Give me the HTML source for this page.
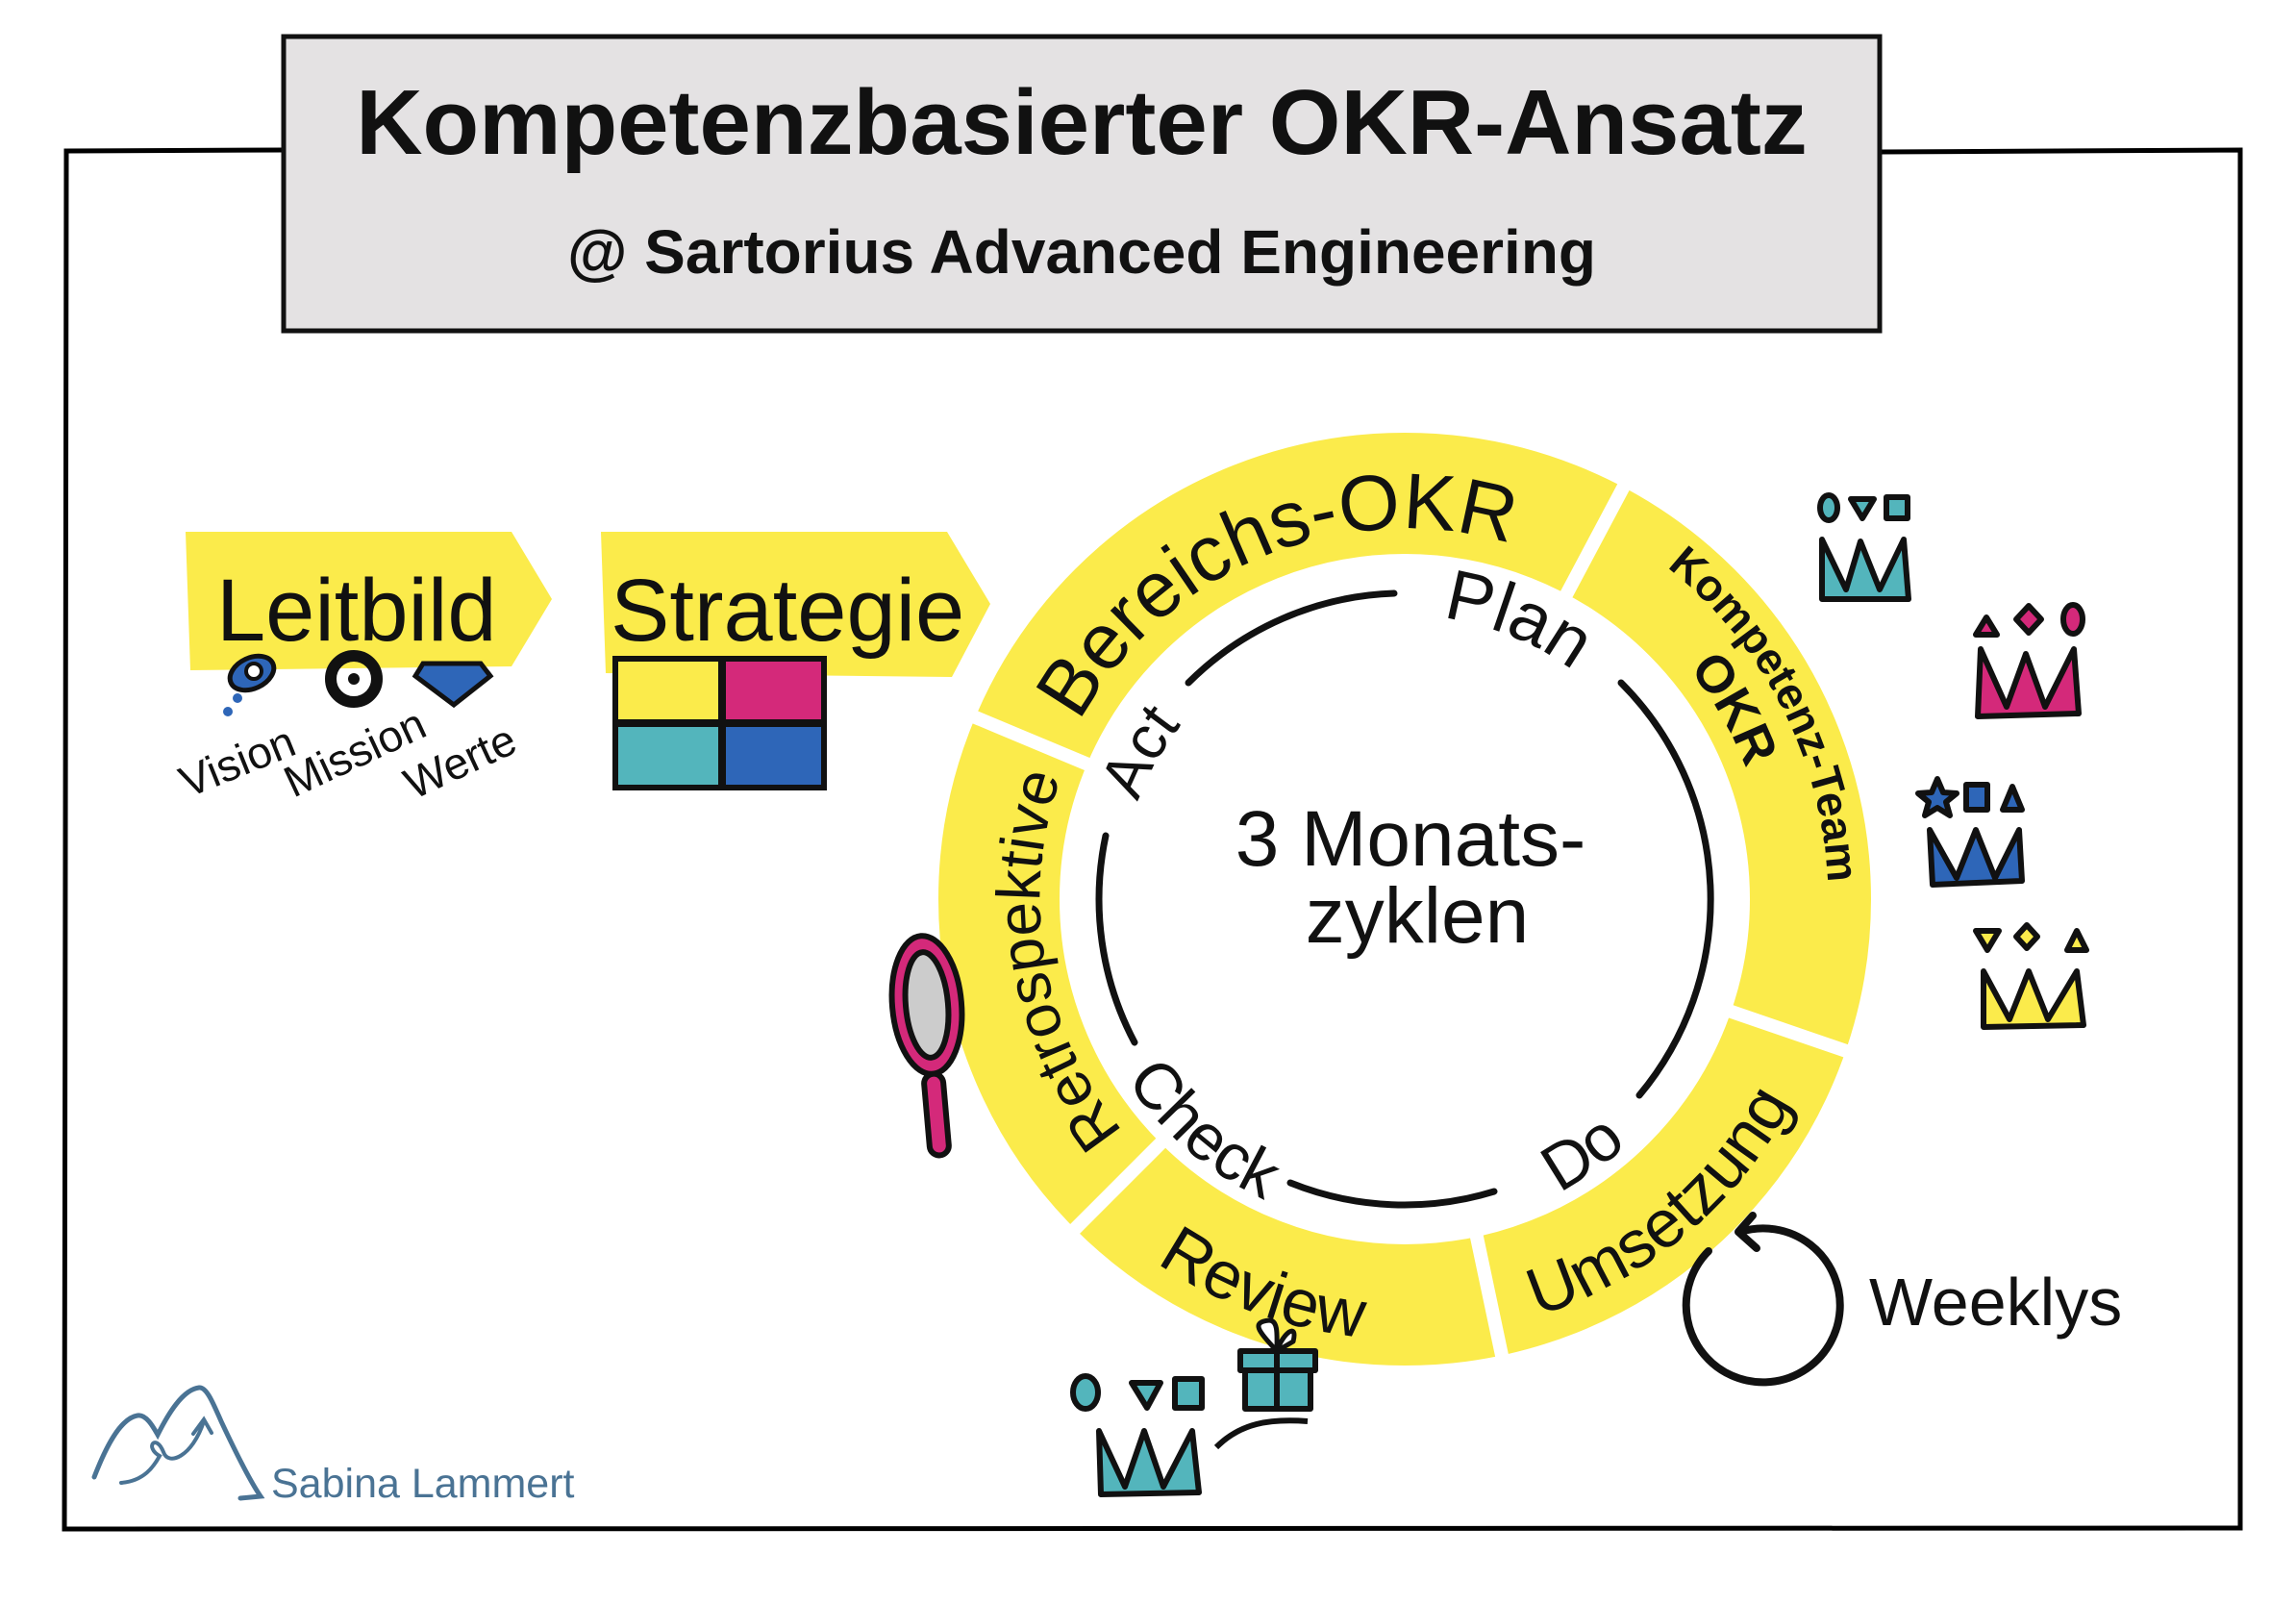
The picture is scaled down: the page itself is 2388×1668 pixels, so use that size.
<!DOCTYPE html>
<html><head><meta charset="utf-8"><style>
html,body{margin:0;padding:0;background:#fff}
svg{display:block}
text{font-family:"Liberation Sans",sans-serif;fill:#111}
.b{font-weight:bold}
</style></head><body>
<svg width="2388" height="1668" viewBox="0 0 2388 1668" xmlns="http://www.w3.org/2000/svg">
<path d="M295,156 L69,157 L67,1590 L2330,1589 L2330,156 L1955,158" fill="none" stroke="#000" stroke-width="5"/>
<rect x="295" y="38" width="1660" height="306" fill="#e4e2e3" stroke="#111" stroke-width="5"/>
<text class="b" x="1125" y="160" font-size="96" text-anchor="middle">Kompetenzbasierter OKR-Ansatz</text>
<text class="b" x="1125" y="284" font-size="64" text-anchor="middle">@ Sartorius Advanced Engineering</text>

<polygon points="193,553 532,553 574,623 532,693 198,697" fill="#fbeb4b"/>
<text x="225" y="666" font-size="92">Leitbild</text>
<polygon points="625,553 985,553 1030,628 990,704 630,700" fill="#fbeb4b"/>
<text x="635" y="666" font-size="92">Strategie</text>
<rect x="637" y="682" width="223" height="140" fill="#111"/>
<rect x="643" y="688" width="104" height="60" fill="#fbeb4b"/>
<rect x="755" y="688" width="99" height="60" fill="#d4297a"/>
<rect x="643" y="756" width="104" height="60" fill="#53b5bc"/>
<rect x="755" y="756" width="99" height="60" fill="#2e66b8"/>

<g transform="translate(262,700)">
<ellipse cx="0" cy="0" rx="24" ry="16" fill="#2e66b8" stroke="#111" stroke-width="5" transform="rotate(-25)"/>
<circle cx="2" cy="-2" r="8" fill="#fff" stroke="#111" stroke-width="4"/>
<circle cx="-15" cy="26" r="5" fill="#2e66b8"/>
<circle cx="-25" cy="40" r="5" fill="#2e66b8"/>
</g>
<circle cx="368" cy="706" r="24" fill="none" stroke="#111" stroke-width="12"/>
<circle cx="368" cy="706" r="6" fill="#111"/>
<polygon points="440,690 500,690 510,703 472,733 432,703" fill="#2e66b8" stroke="#111" stroke-width="5"/>
<text font-size="46" transform="translate(195,830) rotate(-22)">Vision</text>
<text font-size="46" transform="translate(305,830) rotate(-25)">Mission</text>
<text font-size="46" transform="translate(430,832) rotate(-25)">Werte</text>

<circle cx="1461" cy="935" r="422" fill="none" stroke="#fbeb4b" stroke-width="126"/>
<g stroke="#fff" stroke-width="14">
<line x1="1139" y1="798" x2="1005" y2="742"/>
<line x1="1625" y1="626" x2="1693" y2="498"/>
<line x1="1792" y1="1049" x2="1929" y2="1096"/>
<line x1="1534" y1="1277" x2="1564" y2="1419"/>
<line x1="1214" y1="1182" x2="1111" y2="1285"/>
</g>
<defs>
<path id="p1" d="M1112,772 A385,385 0 0 1 1593,573"/>
<path id="p2" d="M1668,547 A440,440 0 0 1 1897,996"/>
<path id="p3" d="M1730,666 A380,380 0 0 1 1828,837"/>
<path id="p4" d="M1540,1383 A455,455 0 0 0 1889,1091"/>
<path id="p5" d="M1149,1270 A458,458 0 0 0 1485,1392"/>
<path id="p6" d="M1227,1234 A380,380 0 0 1 1139,734"/>
<path id="p7" d="M1451,640 A295,295 0 0 1 1673,730"/>
<path id="p8" d="M1170,884 A295,295 0 0 1 1264,716"/>
<path id="p9" d="M1156,1097 A345,345 0 0 0 1343,1259"/>
<path id="p10" d="M1579,1259 A345,345 0 0 0 1725,1157"/>
</defs>
<text font-size="82"><textPath href="#p1" startOffset="50%" text-anchor="middle">Bereichs-OKR</textPath></text>
<text class="b" font-size="46"><textPath href="#p2" startOffset="50%" text-anchor="middle">Kompetenz-Team</textPath></text>
<text class="b" font-size="54"><textPath href="#p3" startOffset="50%" text-anchor="middle">OKR</textPath></text>
<text font-size="70"><textPath href="#p4" startOffset="50%" text-anchor="middle">Umsetzung</textPath></text>
<text font-size="70"><textPath href="#p5" startOffset="50%" text-anchor="middle">Review</textPath></text>
<text font-size="64"><textPath href="#p6" startOffset="50%" text-anchor="middle">Retrospektive</textPath></text>
<text font-size="74"><textPath href="#p7" startOffset="50%" text-anchor="middle">Plan</textPath></text>
<text font-size="64"><textPath href="#p8" startOffset="50%" text-anchor="middle">Act</textPath></text>
<text font-size="68"><textPath href="#p9" startOffset="50%" text-anchor="middle">Check</textPath></text>
<text font-size="68"><textPath href="#p10" startOffset="50%" text-anchor="middle">Do</textPath></text>
<g fill="none" stroke="#111" stroke-width="7" stroke-linecap="round">
<path d="M1686,710 A318,318 0 0 1 1705,1139"/>
<path d="M1554,1239 A318,318 0 0 1 1342,1230"/>
<path d="M1180,1084 A318,318 0 0 1 1150,869"/>
<path d="M1236,710 A318,318 0 0 1 1450,617"/>
</g>
<text x="1467" y="900" font-size="82" text-anchor="middle">3 Monats-</text>
<text x="1474" y="980" font-size="82" text-anchor="middle">zyklen</text>

<g stroke="#111" stroke-width="6" stroke-linejoin="round">
<g transform="translate(1890,513)">
<ellipse cx="12" cy="15" rx="9" ry="13" fill="#53b5bc"/>
<polygon points="35,6 59,6 47,26" fill="#53b5bc"/>
<rect x="72" y="4" width="22" height="22" fill="#53b5bc"/>
<path d="M5,110 L5,48 L30,100 L45,50 L65,100 L90,48 L95,110 Z" fill="#53b5bc"/>
</g>
<g transform="translate(2052,620)">
<polygon points="3,40 14,22 25,40" fill="#d4297a"/>
<polygon points="45,24 58,10 71,24 58,38" fill="#d4297a"/>
<ellipse cx="104" cy="24" rx="10" ry="15" fill="#d4297a"/>
<path d="M5,125 L8,55 L35,115 L55,60 L75,115 L105,55 L110,122 Z" fill="#d4297a"/>
</g>
<g transform="translate(1995,808)">
<polygon points="20,2 26,16 40,17 29,26 33,40 20,32 7,40 11,26 0,17 14,16" fill="#2e66b8"/>
<rect x="50" y="8" width="22" height="26" fill="#2e66b8"/>
<polygon points="88,34 98,10 108,34" fill="#2e66b8"/>
<path d="M15,112 L12,55 L40,105 L60,55 L80,105 L105,55 L108,108 Z" fill="#2e66b8"/>
</g>
<g transform="translate(2055,960)">
<polygon points="0,8 24,8 12,28" fill="#fbeb4b"/>
<polygon points="42,14 53,2 64,14 53,26" fill="#fbeb4b"/>
<polygon points="95,28 105,8 115,28" fill="#fbeb4b"/>
<path d="M8,108 L8,50 L35,100 L55,50 L75,100 L105,50 L112,106 Z" fill="#fbeb4b"/>
</g>
<g transform="translate(1115,1428)">
<ellipse cx="14" cy="20" rx="13" ry="17" fill="#53b5bc"/>
<polygon points="62,10 92,10 78,36" fill="#53b5bc"/>
<rect x="107" y="6" width="28" height="30" fill="#53b5bc"/>
<path d="M30,126 L28,60 L55,118 L75,60 L95,118 L125,60 L132,124 Z" fill="#53b5bc"/>
</g>
<g transform="translate(1290,1385)">
<rect x="0" y="20" width="78" height="20" fill="#53b5bc"/>
<rect x="5" y="40" width="68" height="40" fill="#53b5bc"/>
<line x1="38" y1="20" x2="38" y2="80"/>
<path d="M38,20 C20,0 10,-10 30,-12 C40,-12 38,5 38,20 C45,0 60,-10 55,10 Z" fill="#fff" stroke-width="5"/>
</g>
<path d="M1265,1505 C1290,1480 1320,1475 1360,1478" fill="none"/>
<g transform="translate(964,1045) rotate(-5)">
<ellipse cx="0" cy="0" rx="36" ry="72" fill="#d4297a"/>
<ellipse cx="0" cy="0" rx="22" ry="55" fill="#ccc"/>
<rect x="-10" y="72" width="20" height="85" rx="10" fill="#d4297a"/>
</g>
</g>

<g fill="none" stroke="#111" stroke-width="8" stroke-linecap="round" stroke-linejoin="round">
<path d="M1810,1281 A80,80 0 1 1 1777,1301"/>
<path d="M1823,1264 L1808,1281 L1827,1298"/>
</g>
<text x="1944" y="1378" font-size="70">Weeklys</text>

<g fill="none" stroke="#4a7394" stroke-linecap="round">
<path d="M98,1536 C110,1505 125,1475 143,1472 C152,1470 160,1485 164,1492 C175,1470 190,1445 207,1443 C215,1442 222,1460 230,1478 C245,1510 260,1540 271,1556 L250,1558" stroke-width="5"/>
<path d="M126,1542 C150,1540 160,1525 166,1514 C150,1505 162,1490 170,1510 C175,1525 200,1515 212,1478" stroke-width="4"/>
<path d="M201,1491 L212,1476 L220,1490" stroke-width="4"/>
</g>
<text x="282" y="1557" font-size="43" style="fill:#4a7394">Sabina Lammert</text>
</svg>
</body></html>
